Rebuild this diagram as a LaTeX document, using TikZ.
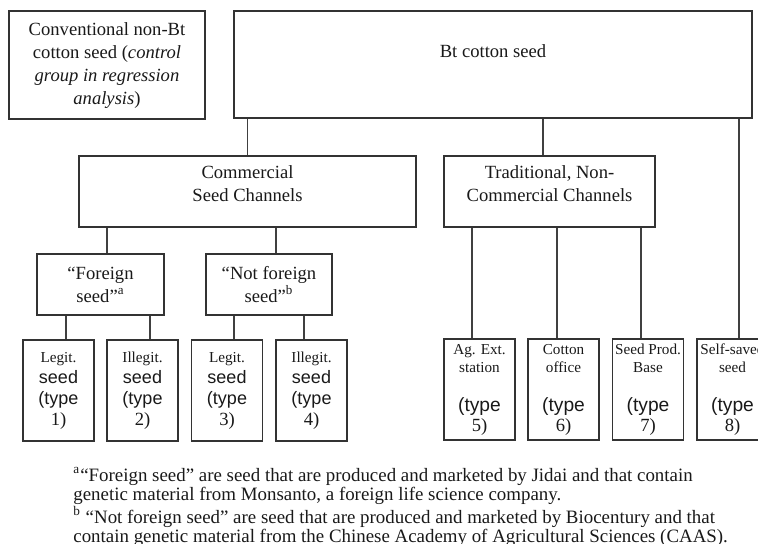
\documentclass[tikz,border=0pt]{standalone}
\usepackage{fontspec}
\setmainfont{Liberation Serif}
\setsansfont{Liberation Sans}
\usepackage{tikz}
\newcommand{\boxfont}{\fontsize{9.3}{11.5}\selectfont}
\newcommand{\leaffont}{\fontsize{7.6}{9}\selectfont}
\newcommand{\typefont}{\sffamily\fontsize{9}{10.5}\selectfont}
\newcommand{\typefontbig}{\sffamily\fontsize{9.6}{10.5}\selectfont}
\newcommand{\footfont}{\fontsize{9.45}{9.7}\selectfont}

\begin{document}
\begin{tikzpicture}[
  x=0.5pt, y=-0.5pt,
  box/.style={
    rectangle, draw=black!80, line width=0.6pt,
    inner sep=0pt, align=center, font=\boxfont, text=black!90
  },
  leaf/.style={box, minimum width=35.5pt, minimum height=50.5pt,
    font=\fontsize{9.3}{10.5}\selectfont},
  link/.style={draw=black!75, line width=0.6pt},
  foot/.style={font=\footfont, align=left, text=black!90, inner sep=0pt}
]
\useasboundingbox (0,0) rectangle (758,544);
\clip (0,0) rectangle (758,544);

% Top level
\node[box, minimum width=98pt, minimum height=54pt, text depth=1.5pt] (conv) at (107,65)
  {Conventional non-Bt\\cotton seed (\emph{control}\\\emph{group in regression}\\\emph{analysis})};
\node[box, minimum width=259pt, minimum height=53.5pt, text depth=13pt] (bt) at (493,64.5)
  {Bt cotton seed};

% Channels
\node[box, minimum width=168.5pt, minimum height=35.5pt, text depth=8pt] (comm) at (247.5,191.5)
  {Commercial\\Seed Channels};
\node[box, minimum width=105.5pt, minimum height=35.5pt, text depth=8pt] (trad) at (549.5,191.5)
  {Traditional, Non-\\Commercial Channels};

% Seed origin
\node[box, minimum width=63.5pt, minimum height=30.5pt] (forn) at (100.5,284.5)
  {“Foreign\\seed”\textsuperscript{a}};
\node[box, minimum width=63pt, minimum height=30.5pt] (notf) at (269,284.5)
  {“Not foreign\\seed”\textsuperscript{b}};

% Seed types
\node[leaf] (l1) at (58.5,390.5)
  {{\leaffont Legit.}\\{\typefont seed}\\{\typefont (type}\\1)};
\node[leaf] (l2) at (142.5,390.5)
  {{\leaffont Illegit.}\\{\typefont seed}\\{\typefont (type}\\2)};
\node[leaf] (l3) at (227,390.5)
  {{\leaffont Legit.}\\{\typefont seed}\\{\typefont (type}\\3)};
\node[leaf] (l4) at (311.5,390.5)
  {{\leaffont Illegit.}\\{\typefont seed}\\{\typefont (type}\\4)};
\node[leaf] (l5) at (479.5,389.5)
  {{\leaffont Ag. Ext.}\\[-1.5pt]{\leaffont station}\\[9pt]{\typefontbig (type}\\[-0.5pt]5)};
\node[leaf] (l6) at (563.5,389.5)
  {{\leaffont Cotton}\\[-1.5pt]{\leaffont office}\\[9pt]{\typefontbig (type}\\[-0.5pt]6)};
\node[leaf] (l7) at (648,389.5)
  {{\leaffont Seed Prod.}\\[-1.5pt]{\leaffont Base}\\[9pt]{\typefontbig (type}\\[-0.5pt]7)};
\node[leaf] (l8) at (732.5,389.5)
  {{\leaffont Self-saved}\\[-1.5pt]{\leaffont seed}\\[9pt]{\typefontbig (type}\\[-0.5pt]8)};

% Connectors (slightly off-centre, as in the original)
\foreach \child/\up/\dx in {comm/bt/0pt, trad/bt/-3.25pt, l8/bt/3.25pt,
    forn/comm/3.25pt, notf/comm/3.5pt,
    l1/forn/3.75pt, l2/forn/3.75pt, l3/notf/3.5pt, l4/notf/-3.75pt,
    l5/trad/-3.75pt, l6/trad/-3.25pt, l7/trad/-3.5pt}
  \draw[link] ([xshift=\dx]\child.north) -- ([xshift=\dx]\child.north |- \up.south);

% Footnotes
\node[foot, anchor=north west] (notes) at (73,467)
  {\textsuperscript{a}“Foreign seed” are seed that are produced and marketed by Jidai and that contain\\
   genetic material from Monsanto, a foreign life science company.\\
   \textsuperscript{b} “Not foreign seed” are seed that are produced and marketed by Biocentury and that\\
   contain genetic material from the Chinese Academy of Agricultural Sciences (CAAS).};

\end{tikzpicture}
\end{document}
